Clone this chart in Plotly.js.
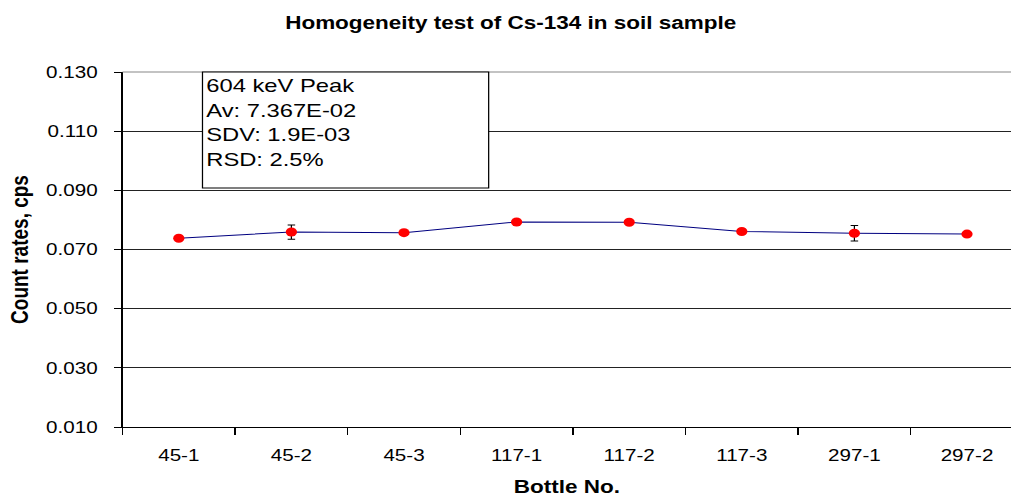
<!DOCTYPE html>
<html>
<head>
<meta charset="utf-8">
<script src="https://cdn.plot.ly/plotly-3.0.1.min.js"></script>
<style>
html,body{margin:0;padding:0;background:#fff;overflow:hidden;}
#chart{width:809px;height:500px;transform:scaleX(1.25);transform-origin:0 0;}
</style>
</head>
<body>
<div id="chart"></div>
<script>
const bottles = ["45-1", "45-2", "45-3", "117-1", "117-2", "117-3", "297-1", "297-2"];
const countRates = [0.0738, 0.0759, 0.0757, 0.0793, 0.0792, 0.0761, 0.0755, 0.0752];
const errors = [0.0005, 0.0024, 0.0005, 0.0005, 0.0005, 0.0005, 0.0026, 0.0005];
const yTicks = [0.010, 0.030, 0.050, 0.070, 0.090, 0.110, 0.130];
const boxLines = ["604 keV Peak", "Av: 7.367E-02", "SDV: 1.9E-03", "RSD: 2.5%"];

const FONT = "Liberation Sans, Arial, sans-serif";

const trace = {
  x: bottles,
  y: countRates,
  type: "scatter",
  mode: "lines+markers",
  line: {color: "#000080", width: 1},
  marker: {color: "#ff0000", size: 9},
  error_y: {type: "data", array: errors, visible: true, color: "#000000", thickness: 1, width: 3},
  hoverinfo: "x+y"
};

const layout = {
  width: 809, height: 500,
  margin: {l: 98.4, r: 0, t: 72, b: 73},
  paper_bgcolor: "#ffffff", plot_bgcolor: "#ffffff",
  showlegend: false,
  font: {family: FONT, color: "#000000"},
  title: {
    text: "<b>Homogeneity test of Cs-134 in soil sample</b>",
    font: {family: FONT, size: 18, color: "#000000"},
    x: 0.505, xanchor: "center", xref: "container",
    y: 0.955, yanchor: "middle", yref: "container"
  },
  xaxis: {
    type: "category",
    range: [-0.5, 7.393],
    tickson: "boundaries",
    ticks: "outside", ticklen: 7, tickcolor: "#000", tickwidth: 1,
    showline: true, linecolor: "#000", linewidth: 1,
    showgrid: false, zeroline: false,
    tickfont: {family: FONT, size: 16.5, color: "#000"},
    ticklabelstandoff: 13,
    title: {text: "<b>Bottle No.</b>", font: {family: FONT, size: 18, color: "#000"}, standoff: 17},
    automargin: false
  },
  yaxis: {
    range: [0.010, 0.130],
    tickvals: yTicks,
    tickformat: ".3f",
    ticks: "outside", ticklen: 5.6, tickcolor: "#000", tickwidth: 1,
    showline: true, linecolor: "#000", linewidth: 1,
    showgrid: true, gridcolor: "#222222", gridwidth: 1,
    zeroline: false,
    tickfont: {family: FONT, size: 16.5, color: "#000"},
    ticklabelstandoff: 10,
    title: {text: "<b>Count rates, cps</b>", font: {family: FONT, size: 19, color: "#000"}, standoff: 8},
    automargin: false
  },
  shapes: [
    {type: "line", xref: "paper", yref: "paper", x0: 0, x1: 1, y0: 1, y1: 1,
     line: {color: "#888888", width: 1}, layer: "above"},
    {type: "rect", xref: "paper", yref: "paper", x0: 0.090, x1: 0.412, y0: 0.673, y1: 1.0,
     line: {color: "#000000", width: 1}, fillcolor: "#ffffff", layer: "above"}
  ],
  annotations: [
    {xref: "paper", yref: "paper", x: 0.0915, y: 0.997, xanchor: "left", yanchor: "top",
     align: "left", showarrow: false,
     text: boxLines.join("<br>"),
     font: {family: FONT, size: 19, color: "#000"}}
  ]
};

Plotly.newPlot("chart", [trace], layout, {displayModeBar: false, staticPlot: true});
</script>
</body>
</html>
